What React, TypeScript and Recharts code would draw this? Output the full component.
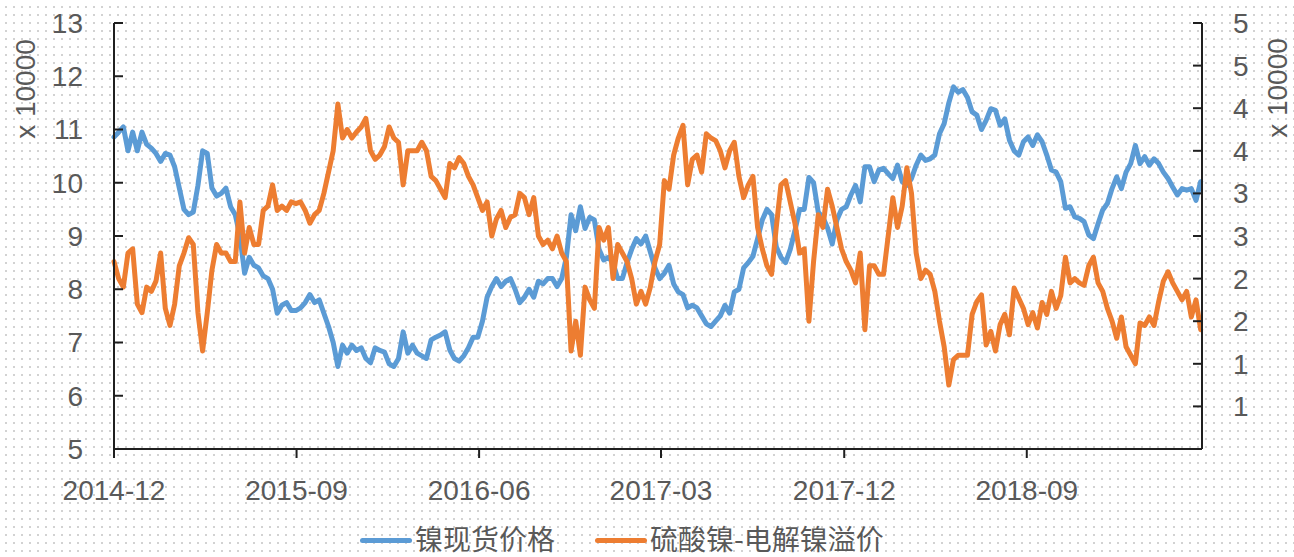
import React from 'react';
import { LineChart, Line, XAxis, YAxis, Legend } from 'recharts';

document.body.style.margin = '0';

const FONT = '"Liberation Sans", "Noto Sans CJK SC", sans-serif';
const CJK = '"Noto Sans CJK SC", "Liberation Sans", sans-serif';
const BLUE = '#5B9BD5';
const ORANGE = '#ED7D31';
const TEXT = '#595959';
const AXIS = '#1f1f1f';

// weekly samples starting 2014-12-01, values in 10000 yuan
const spotPrice = [
  10.86, 10.95, 11.05, 10.6, 10.95, 10.6, 10.95, 10.72, 10.65, 10.55,
  10.4, 10.55, 10.52, 10.3, 9.9, 9.5, 9.4, 9.45, 9.95, 10.6,
  10.55, 9.9, 9.75, 9.8, 9.9, 9.55, 9.4, 9.0, 8.3, 8.6,
  8.45, 8.4, 8.25, 8.2, 8.0, 7.55, 7.7, 7.75, 7.6, 7.6,
  7.65, 7.75, 7.9, 7.75, 7.8, 7.55, 7.3, 7.0, 6.55, 6.95,
  6.8, 6.95, 6.85, 6.9, 6.7, 6.62, 6.9, 6.85, 6.82, 6.6,
  6.55, 6.7, 7.2, 6.8, 6.95, 6.8, 6.75, 6.7, 7.05, 7.1,
  7.14, 7.2, 6.86, 6.7, 6.65, 6.75, 6.9, 7.1, 7.1, 7.4,
  7.85, 8.05, 8.2, 8.05, 8.15, 8.2, 8.0, 7.75, 7.85, 8.0,
  7.85, 8.15, 8.1, 8.2, 8.2, 8.05, 8.2, 8.6, 9.4, 9.1,
  9.55, 9.14, 9.35, 9.3, 8.75, 8.55, 8.6, 8.5, 8.2, 8.2,
  8.5, 8.75, 8.95, 8.85, 9.0, 8.7, 8.4, 8.2, 8.3,
  8.45, 8.1, 7.95, 7.9, 7.65, 7.7, 7.65, 7.5, 7.35, 7.3,
  7.4, 7.5, 7.7, 7.55, 7.95, 8.0, 8.4, 8.5, 8.62, 8.95,
  9.3, 9.5, 9.4, 8.8, 8.6, 8.5, 8.75, 9.1, 9.5, 9.5,
  10.1, 10.0, 9.45, 9.35, 9.15, 8.85, 9.3, 9.5, 9.55,
  9.77, 9.95, 9.64, 10.3, 10.3, 10.02, 10.24, 10.27, 10.17, 10.08,
  10.33, 10.02, 9.95, 10.08, 10.33, 10.52, 10.42, 10.45, 10.52, 10.92,
  11.11, 11.5, 11.8, 11.7, 11.75, 11.6, 11.33, 11.27, 11.0, 11.17,
  11.39, 11.36, 11.08, 11.2, 10.8, 10.6, 10.52, 10.77, 10.86,
  10.7, 10.9, 10.77, 10.52, 10.24, 10.2, 10.02, 9.52, 9.55, 9.36,
  9.33, 9.27, 9.02, 8.95, 9.23, 9.49, 9.61, 9.89, 10.11, 9.89,
  10.2, 10.36, 10.7, 10.36, 10.49, 10.33, 10.45, 10.36, 10.2, 10.08,
  9.92, 9.77, 9.89, 9.86, 9.89, 9.67, 10.02,
];

const premium = [
  2.2, 2.0, 1.9, 2.3, 2.35, 1.7, 1.6, 1.9, 1.85, 1.97,
  2.3, 1.65, 1.45, 1.7, 2.15, 2.3, 2.48, 2.4, 1.6, 1.15,
  1.6, 2.1, 2.4, 2.3, 2.3, 2.2, 2.2, 2.9, 2.3, 2.6,
  2.4, 2.4, 2.8, 2.85, 3.1, 2.8, 2.85, 2.8, 2.9, 2.88,
  2.9, 2.8, 2.65, 2.75, 2.8, 3.0, 3.25, 3.5, 4.05, 3.65,
  3.75, 3.65, 3.72, 3.78, 3.88, 3.5, 3.4, 3.45, 3.55, 3.78,
  3.65, 3.6, 3.1, 3.5, 3.5, 3.5, 3.6, 3.5, 3.2, 3.15,
  3.05, 2.95, 3.35, 3.3, 3.42, 3.35, 3.2, 3.1, 2.95, 2.8,
  2.9, 2.5, 2.7, 2.8, 2.6, 2.72, 2.75, 3.0, 2.95, 2.75,
  2.95, 2.5, 2.4, 2.45, 2.35, 2.5, 2.3, 2.2, 1.15, 1.5,
  1.1, 1.9, 1.75, 1.65, 2.6, 2.45, 2.6, 2.0, 2.4, 2.3,
  2.2, 2.0, 1.7, 1.85, 1.7, 1.9, 2.2, 2.4, 3.15,
  3.05, 3.45, 3.65, 3.8, 3.1, 3.4, 3.45, 3.25, 3.7, 3.65,
  3.62, 3.5, 3.3, 3.5, 3.6, 3.2, 2.95, 3.1, 3.2, 2.6,
  2.35, 2.15, 2.05, 2.6, 3.1, 3.15, 2.9, 2.65, 2.3, 2.35,
  1.5, 2.2, 2.75, 2.6, 3.05, 2.85, 2.6, 2.35, 2.2,
  2.1, 1.95, 2.3, 1.4, 2.15, 2.15, 2.05, 2.05, 2.5, 2.95,
  2.6, 2.85, 3.3, 3.0, 2.3, 2.0, 2.1, 2.05, 1.85, 1.5,
  1.2, 0.75, 1.05, 1.1, 1.1, 1.1, 1.58, 1.73, 1.81, 1.22,
  1.38, 1.15, 1.46, 1.58, 1.34, 1.89, 1.77, 1.65, 1.46,
  1.6, 1.42, 1.72, 1.58, 1.85, 1.65, 1.8, 2.25, 1.95, 2.0,
  1.95, 1.92, 2.15, 2.25, 1.95, 1.85, 1.65, 1.5, 1.3, 1.55,
  1.2, 1.1, 1.0, 1.48, 1.45, 1.55, 1.45, 1.73, 1.97, 2.08,
  1.95, 1.85, 1.75, 1.85, 1.55, 1.75, 1.4,
];

const xTickLabels = ['2014-12', '2015-09', '2016-06', '2017-03', '2017-12', '2018-09'];
const leftTicks = [5, 6, 7, 8, 9, 10, 11, 12, 13];
const rightTicks = [0, 0.5, 1, 1.5, 2, 2.5, 3, 3.5, 4, 4.5, 5];

const START = Date.UTC(2014, 11, 1);
const DAY = 86400000;

const monthToDay = (s: string) => {
  const [y, m] = s.split('-').map(Number);
  return (Date.UTC(y, m - 1, 1) - START) / DAY;
};
const xTicks = xTickLabels.map(monthToDay);

const fmtMonth = (d: number) => {
  const dt = new Date(START + d * DAY);
  return `${dt.getUTCFullYear()}-${String(dt.getUTCMonth() + 1).padStart(2, '0')}`;
};

const data = spotPrice.map((v, i) => ({ day: i * 7, spot: v, premium: premium[i] }));

const LeftUnit = () => (
  <text x={25} y={89} transform="rotate(-90 25 89)" textAnchor="middle" dominantBaseline="central"
    fill={TEXT} fontSize={28} fontFamily={FONT}>x 10000</text>
);
const RightUnit = () => (
  <text x={1277} y={88} transform="rotate(-90 1277 88)" textAnchor="middle" dominantBaseline="central"
    fill={TEXT} fontSize={28} fontFamily={FONT}>x 10000</text>
);

const LegendBox = () => (
  <div style={{ position: 'relative', width: 1294, height: 40, fontFamily: CJK, fontSize: 28, color: TEXT }}>
    <span style={{ position: 'absolute', left: 360, top: 21, width: 52, height: 5, borderRadius: 3, background: BLUE }} />
    <span style={{ position: 'absolute', left: 415, top: 3, height: 36, lineHeight: '36px', whiteSpace: 'nowrap' }}>镍现货价格</span>
    <span style={{ position: 'absolute', left: 595, top: 21, width: 52, height: 5, borderRadius: 3, background: ORANGE }} />
    <span style={{ position: 'absolute', left: 650, top: 3, height: 36, lineHeight: '36px', whiteSpace: 'nowrap' }}>硫酸镍-电解镍溢价</span>
  </div>
);

export default function App() {
  const tickStyle = { fill: TEXT, fontSize: 28, fontFamily: FONT };
  const axisLine = { stroke: AXIS, strokeWidth: 2 };
  return (
    <div
      style={{
        width: 1294,
        height: 557,
        backgroundColor: '#fff',
        backgroundImage: 'radial-gradient(circle, #d2d2d2 0.9px, transparent 1.3px)',
        backgroundSize: '8px 8px',
        backgroundPosition: '2px 3px',
      }}
    >
      <LineChart width={1294} height={557} data={data} margin={{ top: 23, right: 0, bottom: 0, left: 0 }}>
        <XAxis
          dataKey="day"
          type="number"
          domain={[0, 1633]}
          ticks={xTicks}
          tickFormatter={fmtMonth}
          interval={0}
          height={68}
          tickSize={9}
          tickMargin={22}
          tick={tickStyle}
          axisLine={axisLine}
          tickLine={axisLine}
        />
        <YAxis
          yAxisId="left"
          orientation="left"
          domain={[5, 13]}
          ticks={leftTicks}
          interval={0}
          width={114}
          tickSize={-9}
          tickMargin={40}
          tick={tickStyle}
          axisLine={axisLine}
          tickLine={axisLine}
          label={<LeftUnit />}
        />
        <YAxis
          yAxisId="right"
          orientation="right"
          domain={[0, 5]}
          ticks={rightTicks}
          interval={0}
          width={92}
          tickSize={-9}
          tickMargin={40}
          tickFormatter={(v: number) => (v === 0 ? '' : String(Math.round(v)))}
          tick={{ ...tickStyle, textAnchor: 'start' }}
          axisLine={axisLine}
          tickLine={axisLine}
          label={<RightUnit />}
        />
        <Legend verticalAlign="bottom" height={40} wrapperStyle={{ left: 0, bottom: 0, width: 1294 }} content={<LegendBox />} />
        <Line
          yAxisId="left"
          dataKey="spot"
          name="镍现货价格"
          type="linear"
          stroke={BLUE}
          strokeWidth={5}
          strokeLinejoin="round"
          strokeLinecap="round"
          dot={false}
          isAnimationActive={false}
        />
        <Line
          yAxisId="right"
          dataKey="premium"
          name="硫酸镍-电解镍溢价"
          type="linear"
          stroke={ORANGE}
          strokeWidth={5}
          strokeLinejoin="round"
          strokeLinecap="round"
          dot={false}
          isAnimationActive={false}
        />
      </LineChart>
    </div>
  );
}
